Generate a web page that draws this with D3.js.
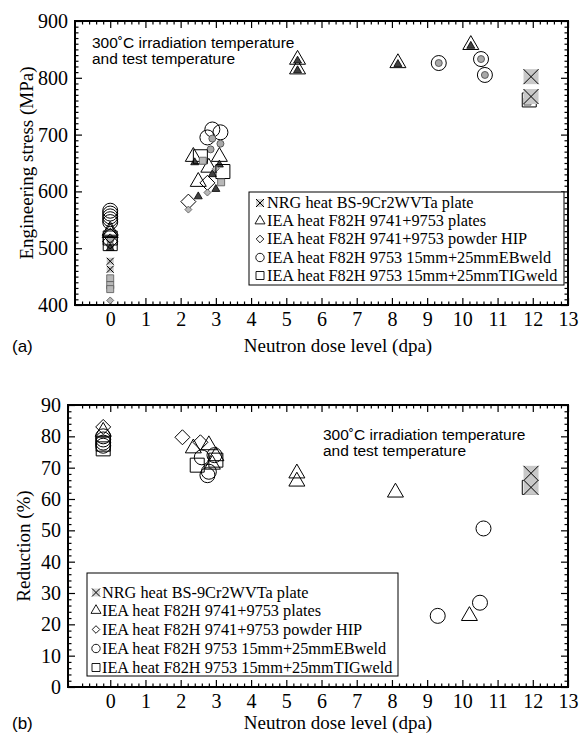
<!DOCTYPE html>
<html>
<head>
<meta charset="utf-8">
<script src="https://cdn.jsdelivr.net/npm/d3@7"></script>
<style>
  body { margin: 0; background: #fff; }
  svg text { font-family: "Liberation Serif", "Times New Roman", serif; fill: #000; }
  svg text.sans { font-family: "Liberation Sans", Arial, sans-serif; }
</style>
</head>
<body>
<svg id="chart" width="580" height="743"></svg>
<script>
// Tick values
const dpaTicks = d3.range(0, 14);
const stressTicks = [400, 500, 600, 700, 800, 900];
const reductionTicks = [0, 10, 20, 30, 40, 50, 60, 70, 80, 90];

const legendLabels = [
  'NRG heat BS-9Cr2WVTa plate',
  'IEA heat F82H 9741+9753 plates',
  'IEA heat F82H 9741+9753 powder HIP',
  'IEA heat F82H 9753 15mm+25mmEBweld',
  'IEA heat F82H 9753 15mm+25mmTIGweld'
];

// (a) engineering stress, [dpa, MPa]; big open marks and small filled marks
const stressNRG = [[11.95, 802], [11.95, 767]];
const stressNRGsmall = [[0, 477], [0, 463]];
const stressPlates = [[0, 531], [0, 527], [2.36, 661], [3.1, 661], [2.8, 642], [2.5, 617],
  [5.32, 832], [5.32, 815], [8.17, 826], [10.24, 858]];
const stressPlatesSmall = [[0, 500], [2.4, 651], [3.1, 647], [2.9, 630], [3.0, 604], [2.5, 591],
  [5.32, 830], [5.32, 813], [8.17, 824], [10.24, 856]];
const stressHIP = [[0, 522], [0, 512], [2.22, 582], [2.76, 615]];
const stressHIPsmall = [[0, 408], [2.22, 568], [2.76, 598], [3.0, 640]];
const stressEB = [[0, 566], [0, 561], [0, 556], [0, 551], [0, 546], [2.9, 709], [3.13, 704],
  [2.76, 695], [9.33, 826], [10.53, 833], [10.64, 805]];
const stressEBsmall = [[0, 515], [0, 505], [2.9, 693], [3.13, 684], [2.85, 674],
  [9.33, 826], [10.53, 833], [10.64, 805]];
const stressTIG = [[0, 518], [0, 508], [2.56, 661], [3.2, 635], [11.9, 761]];
const stressTIGsmall = [[0, 447], [0, 435], [0, 428], [2.63, 654], [3.15, 616], [11.85, 758]];

// (b) reduction of area, [dpa, %]
const reductionNRG = [[11.95, 68.2], [11.95, 63.7]];
const reductionPlates = [[-0.2, 81.5], [2.36, 76.2], [2.8, 77.2], [3.0, 73.7], [2.9, 71],
  [5.3, 68.2], [5.3, 65.6], [8.1, 62.1], [10.2, 22.7]];
const reductionHIP = [[-0.2, 83], [2.05, 79.7], [2.56, 78.1]];
const reductionEB = [[-0.2, 80], [-0.2, 79], [-0.2, 78], [-0.2, 77], [2.6, 73.3], [2.96, 74],
  [2.76, 67.6], [2.8, 68.7], [9.3, 22.7], [10.5, 26.9], [10.6, 50.6]];
const reductionTIG = [[-0.2, 76], [-0.2, 77.5], [2.47, 70.8], [3.0, 72.4], [11.9, 63.7]];

const svg = d3.select('#chart');
const serif = '"Liberation Serif", "Times New Roman", serif';

// marker path for a shape of half-width r
function markPath(shape, r) {
  if (shape === 'circle') return d3.symbol(d3.symbolCircle, Math.PI * r * r)();
  if (shape === 'triangle') return d3.symbol(d3.symbolTriangle, Math.sqrt(3) * r * r)();
  if (shape === 'square') return d3.symbol(d3.symbolSquare, 4 * r * r)();
  if (shape === 'diamond') return `M0,${-r}L${r},0L0,${r}L${-r},0Z`;
  return d3.symbol(d3.symbolSquare, 4 * r * r)();
}

function drawCross(sel, r, fill) {
  sel.append('path').attr('d', markPath('square', r))
    .attr('fill', fill).attr('stroke', 'none');
  sel.append('path')
    .attr('d', `M${-r},${-r}L${r},${r}M${-r},${r}L${r},${-r}`)
    .attr('stroke', '#000').attr('stroke-width', 1).attr('fill', 'none');
}

function drawMarks(g, data, shape, r, style, x, y) {
  const sel = g.append('g').selectAll('g').data(data).join('g')
    .attr('transform', d => `translate(${x(d[0])},${y(d[1])})`);
  if (shape === 'cross') {
    drawCross(sel, r, '#c8c8c8');
    return;
  }
  sel.append('path').attr('d', markPath(shape, r))
    .attr('fill', style.fill).attr('stroke', style.stroke).attr('stroke-width', style.width);
}

const openStyle = { fill: 'none', stroke: '#000', width: 1 };

function drawPanel(p) {
  const g = svg.append('g');
  const x = d3.scaleLinear().domain(p.xDomain).range([p.left, p.right]);
  const y = d3.scaleLinear().domain(p.yDomain).range([p.bottom, p.top]);

  const xMinor = d3.range(Math.ceil(p.xDomain[0] * 5) / 5, 13.001, 0.2)
    .filter(v => Math.abs(v - Math.round(v)) > 0.01);
  const yMinor = d3.range(p.yDomain[0], p.yDomain[1] + 0.001, p.yMinorStep)
    .filter(v => !p.yTicks.includes(Math.round(v)));

  const styleAxis = a => {
    a.select('.domain').remove();
    a.selectAll('line').attr('stroke', '#000').attr('stroke-width', 1.2);
    a.attr('font-family', serif).attr('font-size', 20);
  };

  // bottom
  g.append('g').attr('transform', `translate(0,${p.bottom})`)
    .call(d3.axisBottom(x).tickValues(xMinor).tickSize(-3.5).tickFormat('')).call(styleAxis);
  g.append('g').attr('transform', `translate(0,${p.bottom})`)
    .call(d3.axisBottom(x).tickValues(dpaTicks).tickSize(-7).tickPadding(7).tickFormat(d3.format('d')))
    .call(styleAxis);
  // top
  g.append('g').attr('transform', `translate(0,${p.top})`)
    .call(d3.axisTop(x).tickValues(xMinor).tickSize(-3.5).tickFormat('')).call(styleAxis);
  g.append('g').attr('transform', `translate(0,${p.top})`)
    .call(d3.axisTop(x).tickValues(dpaTicks).tickSize(-7).tickFormat('')).call(styleAxis);
  // left
  g.append('g').attr('transform', `translate(${p.left},0)`)
    .call(d3.axisLeft(y).tickValues(yMinor).tickSize(-3.5).tickFormat('')).call(styleAxis);
  g.append('g').attr('transform', `translate(${p.left},0)`)
    .call(d3.axisLeft(y).tickValues(p.yTicks).tickSize(-7).tickPadding(7).tickFormat(d3.format('d')))
    .call(styleAxis);
  // right
  g.append('g').attr('transform', `translate(${p.right},0)`)
    .call(d3.axisRight(y).tickValues(yMinor).tickSize(-3.5).tickFormat('')).call(styleAxis);
  g.append('g').attr('transform', `translate(${p.right},0)`)
    .call(d3.axisRight(y).tickValues(p.yTicks).tickSize(-7).tickFormat('')).call(styleAxis);

  g.append('rect')
    .attr('x', p.left).attr('y', p.top)
    .attr('width', p.right - p.left).attr('height', p.bottom - p.top)
    .attr('fill', 'none').attr('stroke', '#000').attr('stroke-width', 2);

  // data marks
  p.series.forEach(s => {
    drawMarks(g, s.data, s.shape, s.r, s.style || openStyle, x, y);
  });

  // note
  const note = g.append('text').attr('class', 'sans').attr('font-size', 15.5)
    .attr('x', p.note[0]).attr('y', p.note[1]);
  note.append('tspan').text('300˚C irradiation temperature');
  note.append('tspan').attr('x', p.note[0]).attr('dy', 16).text('and test temperature');

  // legend
  const lg = p.legend;
  g.append('rect').attr('x', lg.x0).attr('y', lg.y0)
    .attr('width', lg.x1 - lg.x0).attr('height', lg.y1 - lg.y0)
    .attr('fill', '#fff').attr('stroke', '#000').attr('stroke-width', 1);
  const shapes = ['cross', 'triangle', 'diamond', 'circle', 'square'];
  const lgR = [4, 5, 3.8, 4.2, 4];
  legendLabels.forEach((label, i) => {
    const row = g.append('g').attr('transform', `translate(${lg.sx},${lg.rows[i] + 0.5})`);
    if (shapes[i] === 'cross') {
      drawCross(row, lgR[i], '#d4d4d4');
    } else {
      row.append('path').attr('d', markPath(shapes[i], lgR[i]))
        .attr('fill', 'none').attr('stroke', '#000').attr('stroke-width', 0.9);
    }
    g.append('text').attr('x', lg.tx).attr('y', lg.rows[i]).attr('dy', '0.35em')
      .attr('font-size', 16.3).text(label);
  });

  // titles
  g.append('text').attr('x', 338).attr('y', p.xTitleY).attr('text-anchor', 'middle')
    .attr('font-size', 19).text('Neutron dose level (dpa)');
  g.append('text').attr('class', 'sans').attr('x', 12).attr('y', p.xTitleY)
    .attr('font-size', 17).text(p.tag);
  g.append('text')
    .attr('transform', `translate(${p.yTitleX},${(p.top + p.bottom) / 2}) rotate(-90)`)
    .attr('text-anchor', 'middle').attr('font-size', 19).text(p.yTitle);
}

const smallCircle = { fill: '#a8a8a8', stroke: '#444', width: 0.8 };
const smallTriangle = { fill: '#404040', stroke: '#000', width: 0.8 };
const smallSquare = { fill: '#b8b8b8', stroke: '#555', width: 0.8 };

drawPanel({
  left: 75, right: 568, top: 21, bottom: 305,
  xDomain: [-1, 13], yDomain: [400, 900], yTicks: stressTicks, yMinorStep: 10,
  yTitle: 'Engineering stress (MPa)', yTitleX: 33, xTitleY: 352, tag: '(a)',
  note: [92, 48],
  legend: { x0: 249, x1: 564, y0: 192, y1: 285, rows: [202.5, 220.5, 238.5, 257, 275], sx: 260, tx: 267 },
  series: [
    { data: stressEB, shape: 'circle', r: 7.5 },
    { data: stressEBsmall, shape: 'circle', r: 3.5, style: smallCircle },
    { data: stressPlates, shape: 'triangle', r: 8 },
    { data: stressPlatesSmall, shape: 'triangle', r: 4, style: smallTriangle },
    { data: stressHIP, shape: 'diamond', r: 7.5 },
    { data: stressHIPsmall, shape: 'diamond', r: 3.5, style: smallSquare },
    { data: stressTIG, shape: 'square', r: 7 },
    { data: stressTIGsmall, shape: 'square', r: 3.5, style: smallSquare },
    { data: stressNRG, shape: 'cross', r: 7.5 },
    { data: stressNRGsmall, shape: 'cross', r: 3.5 }
  ]
});

drawPanel({
  left: 68, right: 568, top: 405, bottom: 687,
  xDomain: [-1.2, 13], yDomain: [0, 90], yTicks: reductionTicks, yMinorStep: 2,
  yTitle: 'Reduction (%)', yTitleX: 30, xTitleY: 729, tag: '(b)',
  note: [323, 440],
  legend: { x0: 87, x1: 398, y0: 573, y1: 676, rows: [592, 610, 629, 648, 667], sx: 96, tx: 102 },
  series: [
    { data: reductionEB, shape: 'circle', r: 7.5 },
    { data: reductionPlates, shape: 'triangle', r: 8 },
    { data: reductionHIP, shape: 'diamond', r: 7.5 },
    { data: reductionTIG, shape: 'square', r: 7 },
    { data: reductionNRG, shape: 'cross', r: 7.5 }
  ]
});
</script>
</body>
</html>
